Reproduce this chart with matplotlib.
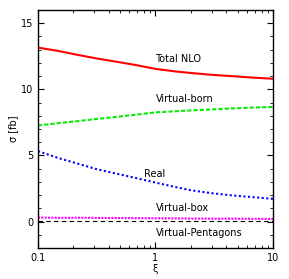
import matplotlib
matplotlib.use("Agg")
import matplotlib.pyplot as plt
from matplotlib.ticker import MultipleLocator, FixedLocator, NullFormatter

xi = [0.1, 0.15, 0.22, 0.32, 0.48, 0.7, 1.0, 1.5, 2.0, 3.0, 4.5, 6.5, 10.0]
total_nlo = [13.16, 12.9, 12.6, 12.33, 12.07, 11.82, 11.55, 11.35, 11.24, 11.1, 11.0, 10.9, 10.8]
virtual_born = [7.27, 7.45, 7.6, 7.77, 7.93, 8.1, 8.26, 8.35, 8.41, 8.48, 8.56, 8.62, 8.67]
real = [5.33, 4.8, 4.37, 3.95, 3.6, 3.27, 2.95, 2.6, 2.37, 2.15, 1.98, 1.86, 1.72]
virtual_box = [0.3, 0.29, 0.29, 0.28, 0.27, 0.26, 0.25, 0.24, 0.23, 0.22, 0.22, 0.21, 0.2]
virtual_pent = [0.05] * len(xi)

fig = plt.figure(figsize=(2.89, 2.79), dpi=100)
ax = fig.add_axes([0.1315, 0.111, 0.813, 0.853])

ax.plot(xi, total_nlo, color="#ff0000", lw=1.5)
ax.plot(xi, virtual_born, color="#00ee00", lw=1.5, ls=(0, (2, 1)))
ax.plot(xi, real, color="#0000ff", lw=1.5, ls=(0, (1, 1.2)))
ax.plot(xi, virtual_box, color="#ff00ff", lw=1.5, ls=(0, (1, 0.6)))
ax.plot(xi, virtual_pent, color="black", lw=0.8, ls=(0, (4, 3)))

fs = 7
ax.text(1.0, 12.3, "Total NLO", fontsize=fs, va="center")
ax.text(1.0, 9.25, "Virtual-born", fontsize=fs, va="center")
ax.text(0.8, 3.6, "Real", fontsize=fs, va="center")
ax.text(1.0, 1.0, "Virtual-box", fontsize=fs, va="center")
ax.text(1.0, -0.85, "Virtual-Pentagons", fontsize=fs, va="center")

ax.set_xscale("log")
ax.set_xlim(0.1, 10)
ax.set_ylim(-2, 16)
ax.set_xticks([0.1, 1, 10])
ax.set_xticklabels(["0.1", "1", "10"])
ax.yaxis.set_major_locator(FixedLocator([0, 5, 10, 15]))
ax.yaxis.set_minor_locator(MultipleLocator(1))
ax.tick_params(which="both", direction="in", top=True, right=True, labelsize=fs)
ax.tick_params(which="major", length=4)
ax.tick_params(which="minor", length=2)
ax.xaxis.set_minor_formatter(NullFormatter())
for s in ax.spines.values():
    s.set_linewidth(1.0)

ax.set_xlabel("ξ", fontsize=fs, labelpad=1)
ax.set_ylabel("σ [fb]", fontsize=fs, labelpad=2)

fig.savefig("out.png", dpi=100)
